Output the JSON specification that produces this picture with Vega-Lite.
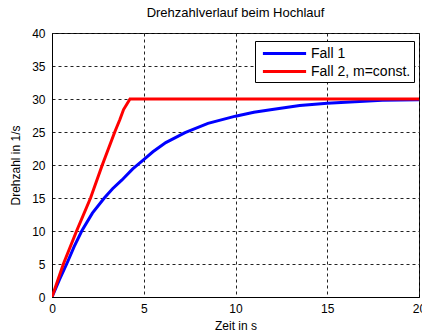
{
  "$schema": "https://vega.github.io/schema/vega-lite/v6.json",
  "width": 367,
  "height": 264,
  "autosize": "none",
  "padding": {"left": 52, "top": 33, "right": 3, "bottom": 37},
  "background": "white",
  "config": {
    "font": "Liberation Sans",
    "view": {"stroke": "black", "strokeWidth": 1},
    "axis": {
      "domainColor": "black",
      "gridColor": "#222",
      "gridDash": [3, 3],
      "gridOpacity": 1,
      "gridWidth": 1,
      "ticks": false,
      "labelFontSize": 12,
      "labelColor": "black",
      "titleFontSize": 12,
      "titleFontWeight": "normal",
      "titleColor": "black",
      "labelFont": "Liberation Sans",
      "titleFont": "Liberation Sans"
    }
  },
  "title": {
    "text": "Drehzahlverlauf beim Hochlauf",
    "fontSize": 13,
    "fontWeight": "normal",
    "font": "Liberation Sans",
    "color": "black",
    "offset": 7
  },
  "data": {
    "values": [
      {"t": 0, "n": 0, "fall": "Fall 1"},
      {"t": 0.4, "n": 2.6, "fall": "Fall 1"},
      {"t": 0.8, "n": 5, "fall": "Fall 1"},
      {"t": 1.2, "n": 7.6, "fall": "Fall 1"},
      {"t": 1.62, "n": 10, "fall": "Fall 1"},
      {"t": 2.2, "n": 12.7, "fall": "Fall 1"},
      {"t": 2.85, "n": 15, "fall": "Fall 1"},
      {"t": 3.3, "n": 16.4, "fall": "Fall 1"},
      {"t": 3.8, "n": 17.7, "fall": "Fall 1"},
      {"t": 4.4, "n": 19.4, "fall": "Fall 1"},
      {"t": 5, "n": 20.8, "fall": "Fall 1"},
      {"t": 5.5, "n": 22.0, "fall": "Fall 1"},
      {"t": 6.2, "n": 23.4, "fall": "Fall 1"},
      {"t": 7.25, "n": 24.9, "fall": "Fall 1"},
      {"t": 8.5, "n": 26.3, "fall": "Fall 1"},
      {"t": 10, "n": 27.4, "fall": "Fall 1"},
      {"t": 11, "n": 28.0, "fall": "Fall 1"},
      {"t": 12, "n": 28.4, "fall": "Fall 1"},
      {"t": 13.5, "n": 29.0, "fall": "Fall 1"},
      {"t": 15, "n": 29.35, "fall": "Fall 1"},
      {"t": 16.5, "n": 29.6, "fall": "Fall 1"},
      {"t": 18, "n": 29.8, "fall": "Fall 1"},
      {"t": 20, "n": 29.9, "fall": "Fall 1"},
      {"t": 0, "n": 0, "fall": "Fall 2, m=const."},
      {"t": 0.62, "n": 5, "fall": "Fall 2, m=const."},
      {"t": 1.34, "n": 10, "fall": "Fall 2, m=const."},
      {"t": 2.1, "n": 15, "fall": "Fall 2, m=const."},
      {"t": 2.74, "n": 20, "fall": "Fall 2, m=const."},
      {"t": 3.42, "n": 25, "fall": "Fall 2, m=const."},
      {"t": 3.7, "n": 26.9, "fall": "Fall 2, m=const."},
      {"t": 3.9, "n": 28.4, "fall": "Fall 2, m=const."},
      {"t": 4.25, "n": 30, "fall": "Fall 2, m=const."},
      {"t": 20, "n": 30, "fall": "Fall 2, m=const."}
    ]
  },
  "mark": {"type": "line", "strokeWidth": 3, "clip": true},
  "encoding": {
    "x": {
      "field": "t",
      "type": "quantitative",
      "scale": {"domain": [0, 20], "nice": false, "zero": false},
      "axis": {"values": [0, 5, 10, 15, 20], "title": "Zeit in s", "labelPadding": 6, "titlePadding": 6, "labelFlush": false}
    },
    "y": {
      "field": "n",
      "type": "quantitative",
      "scale": {"domain": [0, 40], "nice": false},
      "axis": {"values": [0, 5, 10, 15, 20, 25, 30, 35, 40], "title": "Drehzahl in 1/s", "labelPadding": 7, "titlePadding": 9}
    },
    "color": {
      "field": "fall",
      "type": "nominal",
      "scale": {"domain": ["Fall 1", "Fall 2, m=const."], "range": ["#0000ff", "#ff0000"]},
      "legend": {
        "title": null,
        "orient": "none",
        "legendX": 203,
        "legendY": 8,
        "symbolType": "M-2.7,0H2.7",
        "symbolSize": 256,
        "symbolStrokeWidth": 3,
        "symbolFillColor": "transparent",
        "symbolOffset": 17,
        "labelOffset": 17,
        "labelFontSize": 14,
        "labelColor": "black",
        "labelFont": "Liberation Sans",
        "fillColor": "white",
        "strokeColor": "black",
        "padding": 3,
        "rowPadding": 1
      }
    }
  }
}
